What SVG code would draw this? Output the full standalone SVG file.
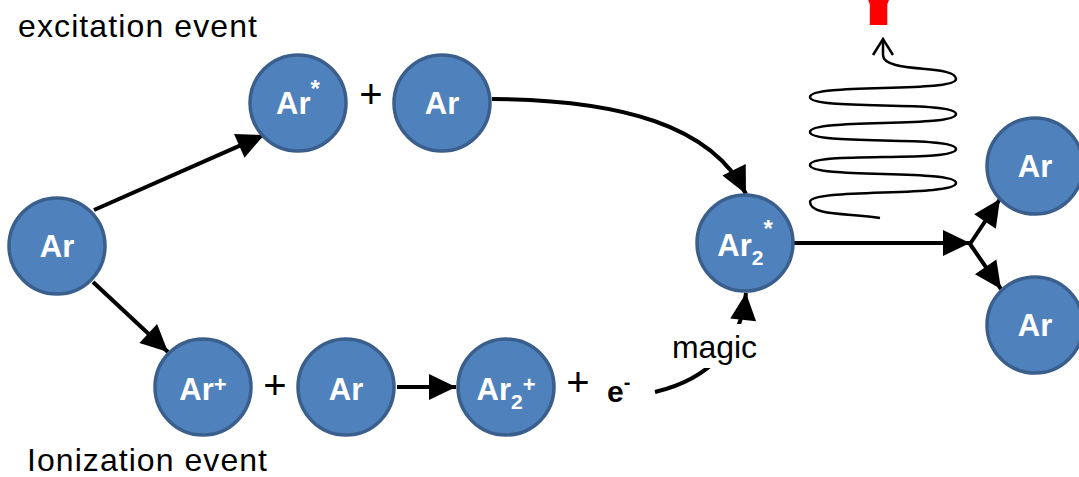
<svg xmlns="http://www.w3.org/2000/svg" width="1079" height="477" viewBox="0 0 1079 477">
<style>
.node circle{fill:#4f81bd;stroke:#3a5f8c;stroke-width:3.5}
.node text{font-family:"Liberation Sans",Arial,sans-serif;font-weight:bold;font-size:31px;fill:#fff;text-anchor:middle}
.lbl{font-family:"Liberation Sans",Arial,sans-serif;font-size:32px;fill:#000}
.op{font-family:"Liberation Sans",Arial,sans-serif;font-size:40px;fill:#000;text-anchor:middle}
.conn path{fill:none;stroke:#000;stroke-width:4}
.conn path.thin{stroke-width:2.5}
</style>
<defs>
<marker id="ah" markerUnits="userSpaceOnUse" markerWidth="28" markerHeight="28" refX="27" refY="13" orient="auto" overflow="visible">
<path d="M0,0 L27,13 L0,26 z" fill="#000"/>
</marker>
</defs>
<rect width="1079" height="477" fill="#fff"/>
<text id="gamma" x="877" y="4" font-family="DejaVu Sans,sans-serif" font-weight="bold" font-size="100" fill="#ff0000" text-anchor="middle">γ</text>
<g class="conn" id="connectors">
<path d="M94,210 L264,135" marker-end="url(#ah)"/>
<path d="M93,282 L168,352" marker-end="url(#ah)"/>
<path d="M492,99 C620,100 712,125 746,194" marker-end="url(#ah)"/>
<path d="M397,387 L456,387" marker-end="url(#ah)"/>
<path d="M655,392 C705,380 740,350 746,293" marker-end="url(#ah)"/>
<path d="M793,243 L970,243" marker-end="url(#ah)"/>
<path d="M970,244 L1000,199" marker-end="url(#ah)"/>
<path d="M970,244 L1001,289" marker-end="url(#ah)"/>
<path class="thin" d="M880,218 C850,213 810,216 810,202 C810,188 956,197 956,183 C956,169 810,179 810,165 C810,151 956,163 956,149 C956,135 810,146 810,132 C810,118 956,128 956,114 C956,100 810,111 810,97 C810,83 956,93 956,79 C956,64 883,74 883,55 L883,40"/>
<path class="thin" d="M873,55 L883,39 L893,55"/>
</g>
<g id="magic-label">
<rect x="664" y="324" width="100" height="44" fill="#fff"/>
<text class="lbl" x="672" y="358" textLength="85">magic</text>
</g>
<text class="lbl" x="18" y="37" textLength="239">excitation event</text>
<text class="lbl" x="27" y="471" textLength="240">Ionization event</text>
<g id="n1" class="node"><circle cx="57" cy="246" r="48"/><text x="57" y="257">Ar</text></g>
<g id="n2" class="node"><circle cx="298" cy="103" r="48"/><text x="298" y="114">Ar<tspan dy="-17" font-size="24">*</tspan></text></g>
<text class="op" x="371" y="108">+</text>
<g id="n3" class="node"><circle cx="442" cy="103" r="48"/><text x="442" y="114">Ar</text></g>
<g id="n4" class="node"><circle cx="745" cy="243" r="48"/><text x="745" y="256">Ar<tspan dy="9" font-size="21">2</tspan><tspan dy="-28" font-size="24">*</tspan></text></g>
<g id="n5" class="node"><circle cx="1035" cy="166" r="48"/><text x="1035" y="177">Ar</text></g>
<g id="n6" class="node"><circle cx="1035" cy="325" r="48"/><text x="1035" y="336">Ar</text></g>
<g id="n7" class="node"><circle cx="203" cy="387" r="48"/><text x="203" y="400">Ar<tspan dy="-8" font-size="22">+</tspan></text></g>
<text class="op" x="275" y="399">+</text>
<g id="n8" class="node"><circle cx="346" cy="387" r="48"/><text x="346" y="400">Ar</text></g>
<g id="n9" class="node"><circle cx="506" cy="387" r="48"/><text x="506" y="400">Ar<tspan dy="9" font-size="21">2</tspan><tspan dy="-17" font-size="22">+</tspan></text></g>
<text class="op" x="578" y="396">+</text>
<text id="electron" x="607" y="402" font-family="Liberation Sans,Arial,sans-serif" font-weight="bold" font-size="30" fill="#000">e<tspan dy="-13" font-size="20">-</tspan></text>
</svg>
